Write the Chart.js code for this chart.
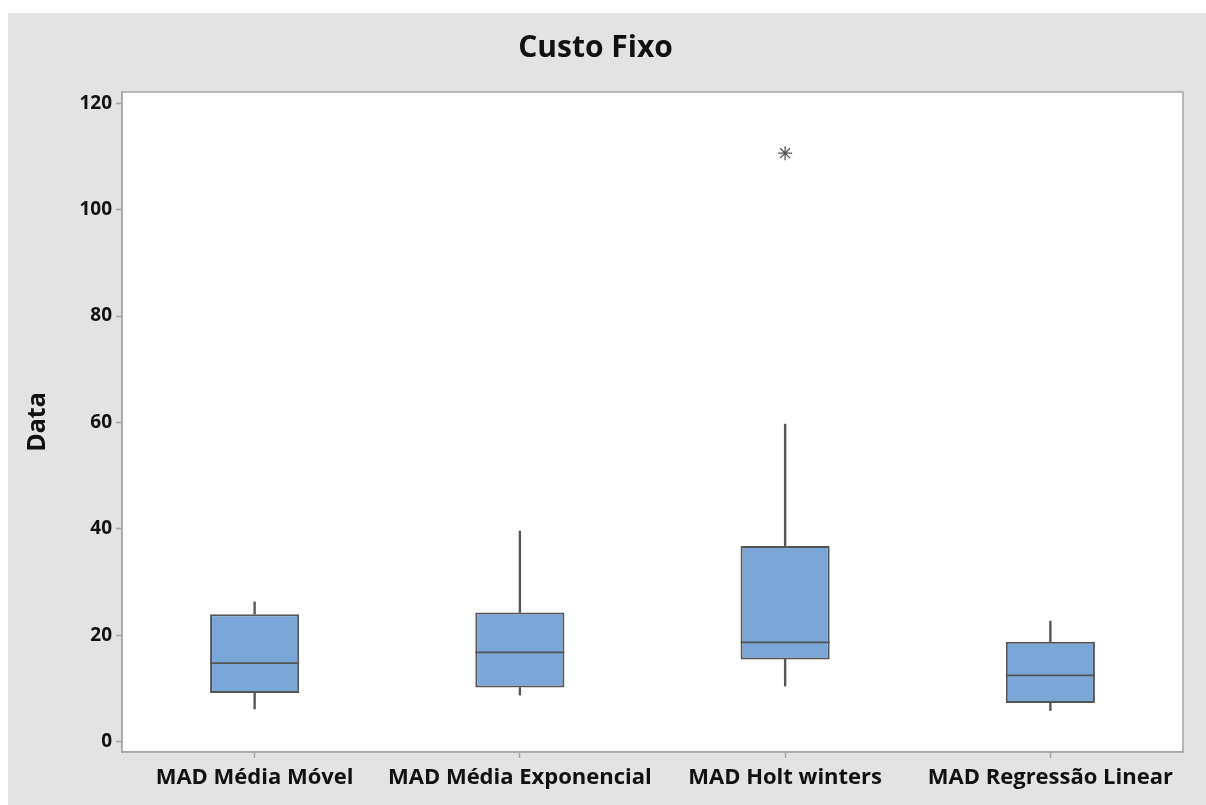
<!DOCTYPE html>
<html>
<head>
<meta charset="utf-8">
<script src="https://cdn.jsdelivr.net/npm/chart.js@4.4.1/dist/chart.umd.min.js"></script>
<style>
  html, body { margin: 0; padding: 0; background: #ffffff; }
  #wrap { position: absolute; left: 8px; top: 13px; width: 1198px; height: 792px; background: #e3e3e3; }
  canvas { display: block; }
</style>
</head>
<body>
<div id="wrap"><canvas id="c" width="1198" height="792"></canvas></div>
<script>
// ---- Data ----
const categories = ["MAD Média Móvel", "MAD Média Exponencial", "MAD Holt winters", "MAD Regressão Linear"];
const whiskerLow  = [6.2, 8.8, 10.5, 5.9];
const q1          = [9.2, 10.2, 15.5, 7.3];
const medians     = [14.8, 16.8, 18.7, 12.5];
const q3          = [24.0, 24.3, 36.8, 18.8];
const whiskerHigh = [26.3, 39.6, 59.7, 22.7];
const outliers    = [null, null, 110.6, null];
const yMin = -1.9, yMax = 122.1, yStep = 20;

const boxFill = '#7ba7d8';
const edge = '#555555';
const frame = '#a6a6a6';
const textCol = '#111111';
const fontFam = '"Open Sans", "Noto Sans", sans-serif';

const boxes = categories.map((_, i) => [q1[i], q3[i]]);
const upperW = categories.map((_, i) => [q3[i], whiskerHigh[i]]);
const lowerW = categories.map((_, i) => [whiskerLow[i], q1[i]]);

const areaPlugin = {
  id: 'areaPlugin',
  beforeDraw(chart) {
    const {ctx, chartArea: a} = chart;
    ctx.save();
    ctx.fillStyle = '#ffffff';
    ctx.fillRect(a.left, a.top, a.right - a.left, a.bottom - a.top);
    ctx.restore();
  },
  afterDraw(chart) {
    const {ctx, chartArea: a} = chart;
    ctx.save();
    ctx.strokeStyle = frame;
    ctx.lineWidth = 1.5;
    ctx.strokeRect(a.left, a.top, a.right - a.left, a.bottom - a.top);
    ctx.restore();
  }
};

new Chart(document.getElementById('c'), {
  type: 'bar',
  data: {
    labels: categories,
    datasets: [
      { type: 'line', data: outliers, showLine: false, pointStyle: 'star', pointRadius: 7,
        borderColor: '#555555', borderWidth: 1.3, backgroundColor: 'transparent', order: 0 },
      { type: 'line', data: medians, showLine: false, pointStyle: 'line', pointRadius: 44.5,
        borderColor: edge, borderWidth: 1.8, order: 1 },
      { data: boxes, backgroundColor: boxFill, borderColor: edge, borderWidth: 2,
        borderSkipped: false, grouped: false, barPercentage: 0.336, categoryPercentage: 1, order: 2 },
      { data: upperW, backgroundColor: edge, borderWidth: 0, barThickness: 1.7, grouped: false, order: 3 },
      { data: lowerW, backgroundColor: edge, borderWidth: 0, barThickness: 1.7, grouped: false, order: 3 }
    ]
  },
  options: {
    responsive: false,
    animation: false,
    layout: { autoPadding: false, padding: { left: 0, right: 23, top: 0, bottom: 0 } },
    plugins: {
      legend: { display: false },
      tooltip: { enabled: false },
      title: {
        display: true, text: 'Custo Fixo', color: textCol,
        font: { family: fontFam, size: 30, weight: '700', lineHeight: 1.2 },
        padding: { top: 17, bottom: 26 }
      }
    },
    scales: {
      x: {
        afterFit(s) { s.height = 53; s.paddingLeft = 0; s.paddingRight = 0; },
        grid: { display: true, offset: false, drawOnChartArea: false, drawTicks: true, tickLength: 6, tickColor: frame, tickWidth: 1.5 },
        border: { display: true, color: frame, width: 1.5 },
        ticks: { color: textCol, padding: 7, maxRotation: 0, autoSkip: false,
          font: { family: fontFam, size: 22, weight: '700' } }
      },
      y: {
        min: yMin, max: yMax,
        afterFit(s) { s.width = 114; },
        grid: { display: true, drawOnChartArea: false, drawTicks: true, tickLength: 6, tickColor: frame, tickWidth: 1.5 },
        border: { display: true, color: frame, width: 1.5 },
        ticks: { stepSize: yStep, includeBounds: false, color: textCol, padding: 4,
          font: { family: fontFam, size: 19, weight: '700' } },
        title: { display: true, text: 'Data', color: textCol,
          font: { family: fontFam, size: 25, weight: '700', lineHeight: 1.2 },
          padding: { top: 15, bottom: 0 } }
      }
    }
  },
  plugins: [areaPlugin]
});
</script>
</body>
</html>
